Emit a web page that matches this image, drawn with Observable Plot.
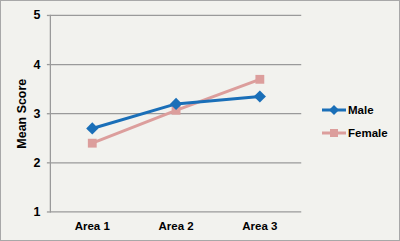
<!DOCTYPE html>
<html><head><meta charset="utf-8">
<script src="https://cdn.jsdelivr.net/npm/d3@7"></script>
<script src="https://cdn.jsdelivr.net/npm/@observablehq/plot@0.6"></script>
<style>
html,body{margin:0;padding:0;background:#f2f2ee;}
#wrap{position:relative;width:400px;height:241px;box-sizing:border-box;border:1px solid #a8a8a8;background:#f2f2ee;overflow:hidden;font-family:"Liberation Sans",Arial,sans-serif;}
#chart{position:absolute;left:-1px;top:-1px;}
.leg{position:absolute;left:321px;font:bold 11.5px "Liberation Sans",Arial,sans-serif;color:#000;display:flex;align-items:center;}
.leg svg{margin-right:2px;}
</style></head>
<body><div id="wrap"><div id="chart"></div>
<div class="leg" style="top:103px"><svg width="24" height="12"><line x1="0" y1="6" x2="24" y2="6" stroke="#1a6fb8" stroke-width="3"/><path d="M12,1 L17,6 L12,11 L7,6Z" fill="#1a6fb8"/></svg>Male</div>
<div class="leg" style="top:126px"><svg width="24" height="12"><line x1="0" y1="6" x2="24" y2="6" stroke="#dc9e9c" stroke-width="3"/><rect x="8" y="2" width="8" height="8" fill="#dc9e9c"/></svg>Female</div>
</div>
<script>
const areas = ["Area 1", "Area 2", "Area 3"];
const male = [2.7, 3.2, 3.35];
const female = [2.4, 3.07, 3.7];
const yTicks = [1, 2, 3, 4, 5];

const maleData = areas.map((a, i) => ({area: a, v: male[i]}));
const femaleData = areas.map((a, i) => ({area: a, v: female[i]}));

const plot = Plot.plot({
  width: 400, height: 241,
  marginLeft: 50, marginRight: 98, marginTop: 15, marginBottom: 29,
  style: {background: "transparent", fontFamily: "Liberation Sans, Arial, sans-serif", fontSize: "11px", fontWeight: "bold", color: "#000"},
  x: {type: "point", domain: areas, padding: 0.5, label: null},
  y: {domain: [1, 5], ticks: yTicks, label: null},
  marks: [
    Plot.gridY(yTicks, {stroke: "#9a9a9a", strokeOpacity: 1, strokeWidth: 1.3}),
    Plot.frame({anchor: "left", stroke: "#9a9a9a", strokeWidth: 1.3}),
    Plot.axisY(yTicks, {tickSize: 3, tickPadding: 7, stroke: "#9a9a9a", strokeWidth: 1.3, fill: "#000", tickFormat: "d", fontWeight: "bold", fontSize: 12.5,
      label: "Mean Score", labelArrow: "none", labelAnchor: "center", labelOffset: 33}),
    Plot.axisX({tickSize: 0, tickPadding: 10, fontWeight: "bold", fontSize: 11.5, label: null, fill: "#000"}),
    Plot.line(femaleData, {x: "area", y: "v", stroke: "#dc9e9c", strokeWidth: 3}),
    Plot.dot(femaleData, {x: "area", y: "v", symbol: "square", r: 5, fill: "#dc9e9c"}),
    Plot.line(maleData, {x: "area", y: "v", stroke: "#1a6fb8", strokeWidth: 3}),
    Plot.dot(maleData, {x: "area", y: "v", symbol: "diamond2", r: 5.5, fill: "#1a6fb8"})
  ]
});
document.getElementById("chart").appendChild(plot);
</script>
</body></html>
